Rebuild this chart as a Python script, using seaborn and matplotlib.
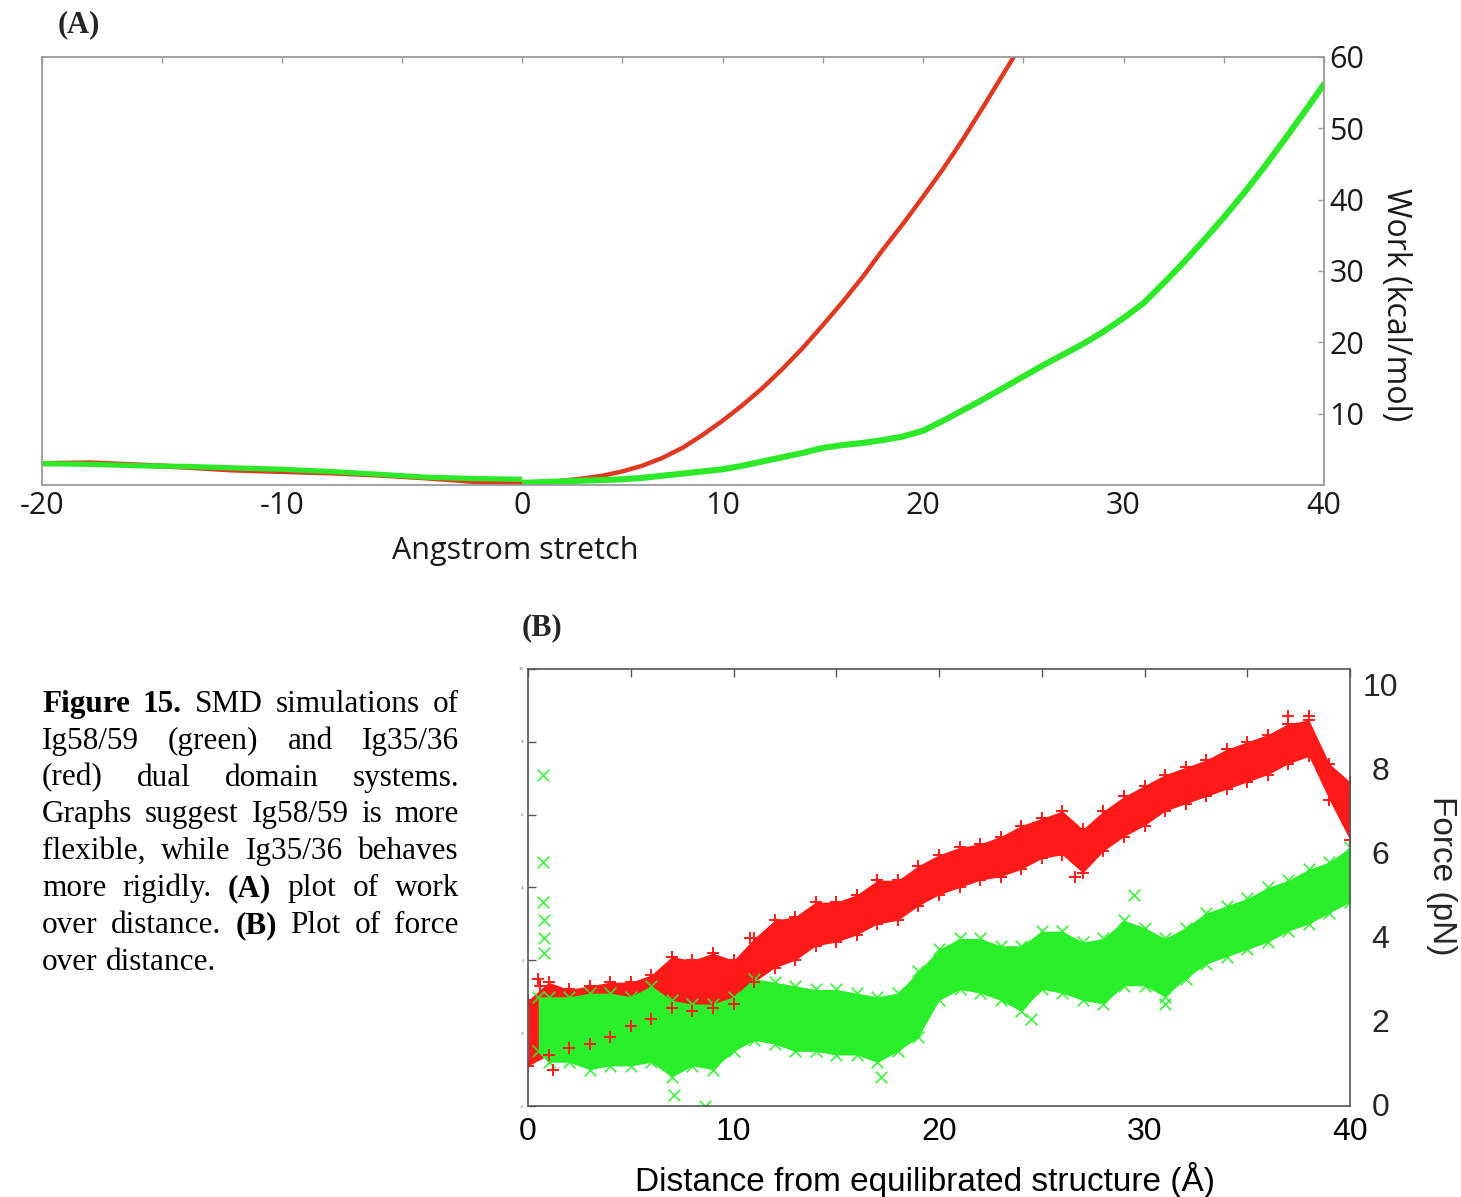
import numpy as np
import pandas as pd
import matplotlib
matplotlib.use("Agg")
import matplotlib.pyplot as plt
import seaborn as sns

sns.set_theme(style="white")
plt.rcParams["font.family"] = ["DejaVu Sans"]
plt.rcParams["axes.unicode_minus"] = False

# ---------------- Panel A data (work vs distance) ----------------
comp_x = [-20, -18, -16, -14, -12, -10, -8, -6, -4, -2, 0]
comp_green = [3.0, 2.9, 2.7, 2.6, 2.4, 2.2, 1.9, 1.5, 1.1, 0.9, 0.8]
comp_red = [3.0, 3.1, 2.8, 2.5, 2.1, 1.9, 1.7, 1.4, 1.0, 0.5, 0.3]

str_red_x = [0, 1, 2, 3, 4, 5, 6, 7, 8, 9, 10, 11, 12, 13, 14, 15, 16, 17,
             18, 19, 20, 21, 22, 23, 24, 25]
str_red = [0.2, 0.3, 0.6, 0.9, 1.3, 1.9, 2.7, 3.8, 5.2, 7.0, 9.0, 11.2, 13.6,
           16.3, 19.2, 22.4, 25.7, 29.2, 33.0, 36.6, 40.4, 44.3, 48.5, 53.0,
           57.6, 62.2]
str_green_x = list(range(0, 41))
str_green = [0.3, 0.4, 0.5, 0.6, 0.7, 0.8, 1.0, 1.3, 1.6, 1.9, 2.2, 2.7, 3.3,
             3.9, 4.5, 5.2, 5.6, 5.9, 6.3, 6.8, 7.6, 9.0, 10.5, 12.0, 13.6,
             15.2, 16.8, 18.3, 19.8, 21.5, 23.4, 25.5, 28.3, 31.2, 34.3, 37.5,
             40.9, 44.5, 48.3, 52.2, 56.2]

# ---------------- Panel B data (force vs distance) ----------------
b_x = list(range(0, 41))
red_lo = [-0.9, -0.6, -0.4, -0.3, -0.1, 0.2, 0.4, 0.7, 0.6, 0.7, 0.8, 1.4,
          1.8, 2.0, 2.4, 2.5, 2.7, 3.0, 3.1, 3.5, 3.8, 4.0, 4.2, 4.3, 4.5,
          4.8, 4.9, 4.4, 5.0, 5.4, 5.7, 6.1, 6.3, 6.5, 6.7, 6.9, 7.1, 7.4,
          7.6, 6.4, 5.3]
red_hi = [0.9, 1.4, 1.2, 1.3, 1.4, 1.4, 1.6, 2.1, 2.0, 2.2, 2.0, 2.6, 3.1,
          3.2, 3.6, 3.6, 3.8, 4.2, 4.2, 4.6, 4.9, 5.1, 5.2, 5.4, 5.7, 5.9,
          6.1, 5.6, 6.1, 6.5, 6.8, 7.1, 7.3, 7.5, 7.8, 8.0, 8.2, 8.5, 8.6,
          7.4, 6.9]
green_x = [0.5] + list(range(1, 41))
green_lo = [-0.5, -0.8, -0.8, -1.0, -0.9, -0.9, -0.8, -1.2, -0.9, -1.0, -0.5,
            -0.2, -0.3, -0.5, -0.5, -0.6, -0.6, -0.8, -0.5, -0.1, 0.9, 1.2,
            1.1, 0.9, 0.6, 1.2, 1.1, 0.9, 0.8, 1.3, 1.3, 1.0, 1.5, 1.9, 2.1,
            2.3, 2.5, 2.8, 3.0, 3.3, 3.6]
green_hi = [1.0, 1.0, 1.0, 1.1, 1.1, 1.0, 1.3, 0.9, 0.8, 0.8, 1.0, 1.5, 1.4,
            1.3, 1.2, 1.2, 1.1, 1.0, 1.1, 1.7, 2.3, 2.6, 2.6, 2.4, 2.4, 2.8,
            2.8, 2.5, 2.6, 3.1, 2.9, 2.6, 2.9, 3.3, 3.5, 3.7, 4.0, 4.2, 4.5,
            4.7, 5.1]
green_out_x = [0.75, 0.75, 0.75, 0.8, 0.8, 0.8, 7.1, 8.6, 17.2, 29.5, 31.0, 24.5]
green_out_y = [7.1, 4.7, 3.6, 3.1, 2.6, 2.2, -1.7, -2.0, -1.2, 3.8, 0.8, 0.4]
red_out_x = [0.5, 0.6, 1.2, 10.8, 26.6, 37.0, 38.0]
red_out_y = [1.5, 1.3, -1.0, 2.6, 4.3, 8.7, 8.7]

force_ticks = [0, 2, 4, 6, 8, 10]
force_tick_labels = ["0", "2", "4", "6", "8", "10"]

RED_A = "#de3a22"
GREEN_A = "#2ee82a"
RED_B = "#ff1a1a"
GREEN_B = "#2aee2a"

W, H = 1461, 1197
fig = plt.figure(figsize=(W / 100, H / 100), dpi=100, facecolor="white")


def fx(px):
    return px / W


def fy(py):
    return 1 - py / H


SANS_A = ["Open Sans", "DejaVu Sans"]
SANS_B = ["Liberation Sans", "DejaVu Sans"]
SERIF = ["Liberation Serif", "DejaVu Serif"]

# ---------------- Panel A axes ----------------
a_bot, a_top = 485, 57
axL = fig.add_axes([fx(42), fy(a_bot), fx(522 - 42), (a_bot - a_top) / H])
axR = fig.add_axes([fx(522), fy(a_bot), fx(1324 - 522), (a_bot - a_top) / H])

for ax in (axL, axR):
    ax.set_facecolor("none")
    ax.set_ylim(0, 60)
    for s in ax.spines.values():
        s.set_color("#9a9a9a")
        s.set_linewidth(1.3)
    ax.tick_params(axis="both", which="both", direction="in", length=4,
                   width=1, color="#9a9a9a", labelsize=22, pad=4,
                   labelcolor="#1a1a1a")

sns.lineplot(x=comp_x, y=comp_red, ax=axL, color=RED_A, linewidth=3.8)
sns.lineplot(x=comp_x, y=comp_green, ax=axL, color=GREEN_A, linewidth=3.8)
sns.lineplot(x=str_red_x, y=str_red, ax=axR, color=RED_A, linewidth=3.2)
sns.lineplot(x=str_green_x, y=str_green, ax=axR, color=GREEN_A, linewidth=4.4)

axL.set_xlim(-20, 0)
axL.spines["right"].set_visible(False)
axL.set_xticks([-20, -10])
axL.set_xticklabels(["-20", "-10"], fontfamily=SANS_A)
axL.set_xticks([-15, -5], minor=True)
axL.set_yticks([10, 20, 30, 40, 50])
axL.set_yticklabels([])
axL.tick_params(top=True, which="both")

axR.set_xlim(0, 40)
axR.spines["left"].set_visible(False)
axR.set_xticks([0, 10, 20, 30, 40])
axR.set_xticklabels(["0", "10", "20", "30", "40"], fontfamily=SANS_A)
axR.set_xticks([5, 15, 25, 35], minor=True)
axR.tick_params(top=True, which="both")
axR.yaxis.tick_right()
axR.set_yticks([10, 20, 30, 40, 50, 60])
axR.set_yticklabels(["10", "20", "30", "40", "50", "60"], fontfamily=SANS_A)
axR.tick_params(axis="y", left=False, right=True)
axR.set_ylabel("Work (kcal/mol)", rotation=270, fontsize=23,
               fontfamily=SANS_A, color="#1a1a1a", va="center", ha="center")
axR.yaxis.set_label_position("right")
axR.yaxis.set_label_coords((1412 - 522) / 802, (a_bot - 305) / (a_bot - a_top))
axL.set_xlabel("")
axR.set_xlabel("")
axL.set_ylabel("")

fig.text(fx(515), fy(551), "Angstrom stretch", fontsize=22, family=SANS_A,
         color="#1a1a1a", ha="center", va="center")
fig.text(fx(58), fy(25), "(A)", fontsize=22, family=SERIF, fontweight="bold",
         ha="left", va="center")
fig.text(fx(522), fy(628), "(B)", fontsize=22, family=SERIF, fontweight="bold",
         ha="left", va="center")

# ---------------- Panel B axes ----------------
b_left, b_right, b_top, b_bot = 528, 1350, 669, 1106
axB = fig.add_axes([fx(b_left), fy(b_bot), fx(b_right - b_left),
                    (b_bot - b_top) / H])
axB.set_facecolor("none")

axB.fill_between(b_x, red_lo, red_hi, color=RED_B, alpha=1.0, linewidth=0)
axB.fill_between(green_x, green_lo, green_hi, color=GREEN_B, alpha=1.0,
                 linewidth=0)
df_green = pd.DataFrame({"x": green_x * 2 + green_out_x,
                         "y": green_lo + green_hi + green_out_y})
sns.scatterplot(data=df_green, x="x", y="y", marker="x", color=GREEN_B,
                s=70, linewidth=1.3, alpha=0.85, ax=axB)
df_red = pd.DataFrame({"x": list(b_x) * 2 + red_out_x,
                       "y": red_lo + red_hi + red_out_y})
sns.scatterplot(data=df_red, x="x", y="y", marker="+", color=RED_B, s=80,
                linewidth=1.4, ax=axB)

axB.set_xlim(0, 40)
axB.set_ylim(-2, 10)
axB.set_xlabel("")
axB.set_ylabel("")
for s in axB.spines.values():
    s.set_color("#555555")
    s.set_linewidth(1.2)
axB.set_xticks([0, 10, 20, 30, 40])
axB.set_xticklabels(["0", "10", "20", "30", "40"], fontfamily=SANS_B)
axB.set_xticks([5, 15, 25, 35], minor=True)
axB.set_yticks(list(range(-2, 11, 2)))
axB.set_yticklabels([str(v) for v in range(-2, 11, 2)], fontsize=3,
                    color="#666666")
axB.tick_params(axis="both", which="both", direction="in", length=6,
                width=1, color="#555555", top=True, right=True)
axB.tick_params(axis="x", labelsize=23, pad=8, labelcolor="black")
axB.tick_params(axis="y", pad=3)
axB.set_xlabel("Distance from equilibrated structure (\u00c5)", fontsize=24,
               fontfamily=SANS_B, color="black", va="center")
axB.xaxis.set_label_coords((925 - b_left) / (b_right - b_left),
                           (b_bot - 1180) / (b_bot - b_top))

axB2 = axB.twinx()
axB2.set_ylim(-(1106 - 1105) / 42.0, 10 + (685 - 669) / 42.0)
axB2.set_yticks(force_ticks)
axB2.set_yticklabels(force_tick_labels, fontfamily=SANS_B)
axB2.tick_params(axis="y", length=0, labelsize=23, pad=22)
for lab in axB2.get_yticklabels():
    lab.set_horizontalalignment("center")
for s in axB2.spines.values():
    s.set_visible(False)
axB2.grid(False)
axB2.set_ylabel("Force (pN)", rotation=270, fontsize=24, fontfamily=SANS_B,
                va="center", ha="center")
axB2.yaxis.set_label_coords((1442 - b_left) / (b_right - b_left),
                            (b_bot - 876) / (b_bot - b_top))

# ---------------- Caption (justified) ----------------
caption_lines = [
    [("Figure 15.", True), ("SMD simulations of", False)],
    [("Ig58/59 (green) and Ig35/36", False)],
    [("(red) dual domain systems.", False)],
    [("Graphs suggest Ig58/59 is more", False)],
    [("flexible, while Ig35/36 behaves", False)],
    [("more rigidly.", False), ("(A)", True), ("plot of work", False)],
    [("over distance.", False), ("(B)", True), ("Plot of force", False)],
    [("over distance.", False)],
]
cap_x0, cap_x1 = 42, 459
cap_base0, cap_step = 712, 36.8
cap_fs = 22.5
renderer = fig.canvas.get_renderer()
for i, segs in enumerate(caption_lines):
    words = []
    for txt, bold in segs:
        for w in txt.split():
            words.append((w, bold))
    arts = []
    for w, b in words:
        t = fig.text(0, fy(cap_base0 + i * cap_step), w, fontsize=cap_fs,
                     family=SERIF, fontweight="bold" if b else "normal",
                     ha="left", va="baseline", color="black")
        arts.append(t)
    widths = [a.get_window_extent(renderer).width for a in arts]
    last = i == len(caption_lines) - 1
    if last or len(arts) == 1:
        gap = cap_fs * 100 / 72 * 0.25
    else:
        gap = (cap_x1 - cap_x0 - sum(widths)) / (len(arts) - 1)
    xpos = cap_x0
    for a, wdt in zip(arts, widths):
        a.set_x(fx(xpos))
        xpos += wdt + gap

fig.savefig("out.png", dpi=100, facecolor="white")
